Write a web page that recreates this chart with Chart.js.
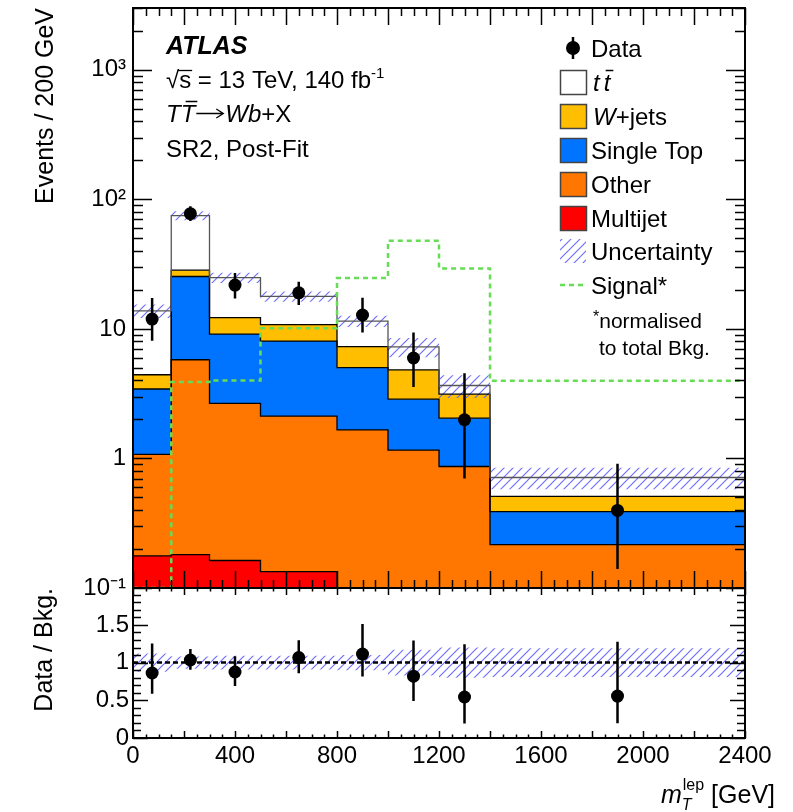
<!DOCTYPE html>
<html>
<head>
<meta charset="utf-8">
<script src="https://cdn.jsdelivr.net/npm/chart.js@4.4.0/dist/chart.umd.min.js"></script>
<style>
  html, body { margin: 0; padding: 0; background: #fff; }
  #wrap { position: relative; width: 793px; height: 812px; }
  #main { position: absolute; left: 0; top: 0; }
  #ratio { position: absolute; left: 0; top: 576px; }
</style>
</head>
<body>
<div id="wrap">
  <canvas id="main" width="793" height="600"></canvas>
  <canvas id="ratio" width="793" height="236"></canvas>
</div>
<script>
// m_T^lep distribution, SR2 post-fit: stacked backgrounds + data, ratio below

const binEdges  = [0, 150, 300, 500, 800, 1000, 1200, 1400, 2400];
const multijet  = [0.177, 0.181, 0.163, 0.134, 0, 0, 0, 0];
const other     = [0.90, 5.60, 2.50, 1.99, 1.66, 1.16, 0.867, 0.216];
const singleTop = [2.36, 19.6, 6.46, 5.93, 3.37, 1.71, 1.18, 0.172];
const wjets     = [0.99, 3.0, 3.08, 2.75, 2.26, 1.96, 1.09, 0.121];
const ttbar     = [9.37, 46.6, 12.7, 7.0, 4.21, 2.44, 0.52, 0.204];
const signal    = [0, 3.9, 4.0, 10.1, 24.7, 47.9, 29.3, 3.98];
const bkgUnc    = [0.12, 0.08, 0.09, 0.09, 0.10, 0.17, 0.20, 0.19]; // relative

const dataX  = [75, 225, 400, 650, 900, 1100, 1300, 1900];
const dataY  = [11.9, 77.6, 21.8, 19.0, 12.8, 5.96, 1.99, 0.397];
const dataLo = [8.1, 68.0, 17.2, 15.3, 9.4, 3.56, 0.70, 0.140];
const dataHi = [17.3, 88.5, 27.0, 23.1, 17.4, 9.4, 4.55, 0.91];

const yTickVals   = [0.1, 1, 10, 100, 1000];
const yTickLabels = ['10\u207B\u00B9', '1', '10', '10\u00B2', '10\u00B3'];
const rTickVals   = [0, 0.5, 1, 1.5];
const rTickLabels = ['0', '0.5', '1', '1.5'];
const xTickVals   = [0, 400, 800, 1200, 1600, 2000, 2400];

const Y_MIN = 0.1, Y_MAX = 3000;
const R_MIN = 0, R_MAX = 1.99;

const FONT = "'Liberation Sans', Arial, Helvetica, sans-serif";
const font = (size, style) => (style ? style + ' ' : '') + size + 'px ' + FONT;

const stackNames = ['Multijet', 'Other', 'Single Top', 'W+jets', 'ttbar'];
const stackFill  = ['#ff0000', '#ff7700', '#0074ff', '#ffbe00', '#ffffff'];
const SIGNAL_COLOR = '#66dd55';

// cumulative stack tops, bottom to top
let run = multijet.map(() => 0);
const stackTops = [multijet, other, singleTop, wjets, ttbar].map(arr => (run = run.map((r, i) => r + arr[i])));
const total = stackTops[stackTops.length - 1];

// points for a step histogram: left edges, plus the last right edge
function steps(vals) {
  const pts = vals.map((v, i) => ({ x: binEdges[i], y: v }));
  pts.push({ x: binEdges[binEdges.length - 1], y: vals[vals.length - 1] });
  return pts;
}
const clampLog = v => Math.max(v, Y_MIN);

function errorSegments(xs, lo, hi) {
  const pts = [];
  xs.forEach((x, i) => {
    pts.push({ x: x, y: lo[i] }, { x: x, y: hi[i] }, { x: x, y: null });
  });
  return pts;
}

function hatchPattern() {
  const s = 9;
  const c = document.createElement('canvas');
  c.width = s; c.height = s;
  const g = c.getContext('2d');
  g.strokeStyle = 'rgba(95,95,255,0.9)';
  g.lineWidth = 1.2;
  g.beginPath();
  g.moveTo(-1, s + 1); g.lineTo(s + 1, -1);
  g.moveTo(-1, 1); g.lineTo(1, -1);
  g.moveTo(s - 1, s + 1); g.lineTo(s + 1, s - 1);
  g.stroke();
  return g.createPattern(c, 'repeat');
}
const hatch = hatchPattern();

// keep the plot frame fixed: no extra room for half-labels at the ends
function noLabelPadding(s) {
  s.paddingTop = 0; s.paddingBottom = 0;
  s.paddingLeft = 0; s.paddingRight = 0;
}

// tick marks on all four sides, drawn inside the frame
function frameTicks(xTicks, yTicks) {
  return {
    id: 'frameTicks',
    afterDatasetsDraw(chart) {
      const { ctx, chartArea: a } = chart;
      const x = chart.scales.x, y = chart.scales.y;
      ctx.save();
      ctx.strokeStyle = '#000';
      ctx.lineWidth = 1.5;
      ctx.beginPath();
      xTicks.forEach(([v, len]) => {
        const px = Math.round(x.getPixelForValue(v)) + 0.5;
        ctx.moveTo(px, a.bottom); ctx.lineTo(px, a.bottom - len);
        ctx.moveTo(px, a.top); ctx.lineTo(px, a.top + len);
      });
      yTicks.forEach(([v, len]) => {
        const py = Math.round(y.getPixelForValue(v)) + 0.5;
        ctx.moveTo(a.left, py); ctx.lineTo(a.left + len, py);
        ctx.moveTo(a.right, py); ctx.lineTo(a.right - len, py);
      });
      ctx.stroke();
      ctx.lineWidth = 2;
      ctx.strokeRect(a.left, a.top, a.right - a.left, a.bottom - a.top);
      ctx.restore();
    }
  };
}

const mainXTicks = [];
for (let v = 0; v <= 2400; v += 50) mainXTicks.push([v, v % 200 === 0 ? 17 : 8]);
const mainYTicks = [];
for (let d = -1; d <= 3; d++) {
  for (let k = 1; k <= 9; k++) {
    const v = k * Math.pow(10, d);
    if (v <= Y_MAX) mainYTicks.push([v, k === 1 ? 19 : 10]);
  }
}
const ratioXTicks = [];
for (let v = 0; v <= 2400; v += 50) ratioXTicks.push([v, v % 200 === 0 ? 7 : 3.5]);
const ratioYTicks = [];
for (let i = 0; i <= 19; i++) ratioYTicks.push([i / 10, i % 5 === 0 ? 15 : 8]);

// draw a row of text pieces [text, font, dy], returns end x
function textRuns(ctx, x, y, parts) {
  parts.forEach(([t, f, dy]) => {
    ctx.font = f;
    ctx.fillText(t, x, y + (dy || 0));
    x += ctx.measureText(t).width;
  });
  return x;
}

const mainText = {
  id: 'mainText',
  afterDraw(chart) {
    const ctx = chart.ctx;
    ctx.save();
    ctx.fillStyle = '#000';
    ctx.strokeStyle = '#000';
    ctx.textBaseline = 'alphabetic';
    ctx.textAlign = 'left';

    // ATLAS block
    ctx.font = font(25, 'italic bold');
    ctx.fillText('ATLAS', 166, 54);
    ctx.font = font(24);
    const rootW = ctx.measureText('\u221A').width;
    ctx.fillText('\u221A', 166, 88);
    const sEnd = textRuns(ctx, 166 + rootW, 88, [['s', font(24)]]);
    ctx.lineWidth = 1.3;
    ctx.beginPath();
    ctx.moveTo(166 + rootW - 1, 70.5); ctx.lineTo(sEnd + 1, 70.5);
    ctx.stroke();
    const eEnd = textRuns(ctx, sEnd, 88, [[' = 13 TeV, 140 fb', font(24)]]);
    textRuns(ctx, eEnd, 88, [['-1', font(15), -10]]);

    let x = textRuns(ctx, 166, 122, [['T', font(24, 'italic')]]);
    ctx.font = font(24, 'italic');
    const tW = ctx.measureText('T').width;
    ctx.fillText('T', x, 122);
    ctx.lineWidth = 1.5;
    ctx.beginPath();
    ctx.moveTo(x + 5, 101.5); ctx.lineTo(x + tW + 2, 101.5);
    ctx.stroke();
    x += tW + 1;
    // long arrow
    ctx.lineWidth = 1.3;
    ctx.beginPath();
    ctx.moveTo(x, 113.5); ctx.lineTo(x + 26, 113.5);
    ctx.moveTo(x + 20, 109); ctx.lineTo(x + 27, 113.5); ctx.lineTo(x + 20, 118);
    ctx.stroke();
    x += 29;
    textRuns(ctx, x, 122, [['Wb', font(24, 'italic')], ['+X', font(24)]]);

    ctx.font = font(24);
    ctx.fillText('SR2, Post-Fit', 166, 157);

    // legend
    const rows = [48, 82, 116, 150, 184, 218, 251, 285];
    const bx = 560, bw = 26, bh = 24, tx = 591;
    // data
    ctx.lineWidth = 2.5;
    ctx.beginPath();
    ctx.moveTo(573, rows[0] - 11); ctx.lineTo(573, rows[0] + 11);
    ctx.stroke();
    ctx.beginPath();
    ctx.arc(573, rows[0], 7, 0, 2 * Math.PI);
    ctx.fill();
    ctx.font = font(24);
    ctx.fillText('Data', tx, rows[0] + 8.5);
    // stacked processes, top of stack first
    const boxes = [[4, 1], [3, 2], [2, 3], [1, 4], [0, 5]];
    ctx.lineWidth = 1.5;
    boxes.forEach(([k, r]) => {
      ctx.fillStyle = stackFill[k];
      ctx.fillRect(bx, rows[r] - bh / 2, bw, bh);
      ctx.strokeStyle = '#444';
      ctx.strokeRect(bx + 0.5, rows[r] - bh / 2 + 0.5, bw, bh);
    });
    ctx.fillStyle = '#000';
    ctx.strokeStyle = '#000';
    // t tbar
    ctx.font = font(24, 'italic');
    const tt = ctx.measureText('t').width;
    ctx.fillText('t', tx + 2, rows[1] + 8.5);
    ctx.fillText('t', tx + 2 + tt + 4, rows[1] + 8.5);
    ctx.lineWidth = 1.5;
    ctx.beginPath();
    ctx.moveTo(tx + tt + 8, rows[1] - 11.5); ctx.lineTo(tx + 2 * tt + 9, rows[1] - 11.5);
    ctx.stroke();
    textRuns(ctx, tx + 2, rows[2] + 8.5, [['W', font(24, 'italic')], ['+jets', font(24)]]);
    ctx.font = font(24);
    ctx.fillText('Single Top', tx, rows[3] + 8.5);
    ctx.fillText('Other', tx, rows[4] + 8.5);
    ctx.fillText('Multijet', tx, rows[5] + 8.5);
    // uncertainty
    ctx.fillStyle = hatch;
    ctx.fillRect(bx, rows[6] - bh / 2, bw, bh);
    ctx.fillStyle = '#000';
    ctx.fillText('Uncertainty', tx, rows[6] + 8.5);
    // signal
    ctx.strokeStyle = SIGNAL_COLOR;
    ctx.lineWidth = 2.5;
    ctx.setLineDash([5, 4]);
    ctx.beginPath();
    ctx.moveTo(bx, rows[7]); ctx.lineTo(bx + bw, rows[7]);
    ctx.stroke();
    ctx.setLineDash([]);
    ctx.fillText('Signal*', tx, rows[7] + 8.5);
    textRuns(ctx, 593, 328, [['*', font(16), -6], ['normalised', font(21)]]);
    ctx.font = font(21);
    ctx.fillText('to total Bkg.', 599, 355);

    // y title
    ctx.translate(53, 8);
    ctx.rotate(-Math.PI / 2);
    ctx.textAlign = 'right';
    ctx.font = font(25);
    ctx.fillText('Events / 200 GeV', 0, 0);
    ctx.restore();
  }
};

const ratioText = {
  id: 'ratioText',
  afterDraw(chart) {
    const ctx = chart.ctx;
    ctx.save();
    ctx.fillStyle = '#000';
    // x title, right aligned
    const parts = [['m', font(25, 'italic')], [' [GeV]', font(25)]];
    ctx.font = font(16, 'italic');
    const subW = ctx.measureText('T').width;
    ctx.font = font(16);
    const supW = ctx.measureText('lep').width;
    ctx.font = font(25, 'italic');
    const mW = ctx.measureText('m').width;
    ctx.font = font(25);
    const gW = ctx.measureText(' [GeV]').width;
    const right = 775, base = 227;
    let x = right - (mW + Math.max(subW, supW) + 1 + gW);
    textRuns(ctx, x, base, [parts[0]]);
    x += mW;
    ctx.font = font(16, 'italic');
    ctx.fillText('T', x, base + 7);
    ctx.font = font(16);
    ctx.fillText('lep', x + 1, base - 13);
    x += Math.max(subW, supW) + 1;
    textRuns(ctx, x, base, [parts[1]]);

    // y title
    ctx.translate(52, 12);
    ctx.rotate(-Math.PI / 2);
    ctx.textAlign = 'right';
    ctx.font = font(25);
    ctx.fillText('Data / Bkg.', 0, 0);
    ctx.restore();
  }
};

const tickFont = { family: FONT, size: 24 };

// main panel
const mainSets = stackTops.map((top, i) => ({
  label: stackNames[i],
  data: steps(top.map(clampLog)),
  stepped: true,
  borderColor: i === stackTops.length - 1 ? '#555' : '#000',
  borderWidth: 1.3,
  backgroundColor: stackFill[i],
  fill: i === 0 ? 'start' : '-1',
  pointRadius: 0,
  order: 20 - i
}));
mainSets.push({
  label: 'Signal*',
  data: steps(signal.map(clampLog)),
  stepped: true,
  borderColor: SIGNAL_COLOR,
  borderDash: [5, 4],
  borderWidth: 2.5,
  fill: false,
  pointRadius: 0,
  order: 10
});
mainSets.push({
  label: 'uncDown',
  data: steps(total.map((t, i) => t * (1 - bkgUnc[i]))),
  stepped: true,
  borderWidth: 0,
  borderColor: 'rgba(0,0,0,0)',
  fill: false,
  pointRadius: 0,
  order: 9
});
mainSets.push({
  label: 'Uncertainty',
  data: steps(total.map((t, i) => t * (1 + bkgUnc[i]))),
  stepped: true,
  borderWidth: 0,
  borderColor: 'rgba(0,0,0,0)',
  backgroundColor: hatch,
  fill: '-1',
  pointRadius: 0,
  order: 8
});
mainSets.push({
  label: 'dataErr',
  data: errorSegments(dataX, dataLo, dataHi),
  borderColor: '#000',
  borderWidth: 2.5,
  fill: false,
  spanGaps: false,
  pointRadius: 0,
  order: 2
});
mainSets.push({
  label: 'Data',
  data: dataX.map((x, i) => ({ x: x, y: dataY[i] })),
  showLine: false,
  pointRadius: 6.5,
  pointBackgroundColor: '#000',
  pointBorderWidth: 0,
  order: 1
});

new Chart(document.getElementById('main'), {
  type: 'line',
  data: { datasets: mainSets },
  options: {
    responsive: false,
    animation: false,
    events: [],
    layout: { padding: { top: 8, right: 48, bottom: 12, left: 0 } },
    plugins: {
      legend: { display: false },
      tooltip: { enabled: false },
      filler: { drawTime: 'beforeDatasetsDraw' }
    },
    scales: {
      x: { type: 'linear', min: 0, max: 2400, display: false },
      y: {
        type: 'logarithmic',
        min: Y_MIN,
        max: Y_MAX,
        afterBuildTicks: s => { s.ticks = yTickVals.map(v => ({ value: v })); },
        afterFit: s => { s.width = 133; noLabelPadding(s); },
        ticks: {
          font: tickFont,
          color: '#000',
          padding: 7,
          autoSkip: false,
          callback: v => yTickLabels[yTickVals.indexOf(v)]
        },
        grid: { display: false, drawTicks: false },
        border: { display: false }
      }
    }
  },
  plugins: [frameTicks(mainXTicks, mainYTicks), mainText]
});

// ratio panel
const ratio = dataY.map((d, i) => d / total[i]);
const ratioLo = dataLo.map((d, i) => d / total[i]);
const ratioHi = dataHi.map((d, i) => d / total[i]);

new Chart(document.getElementById('ratio'), {
  type: 'line',
  data: {
    datasets: [
      {
        label: 'bandDown',
        data: steps(bkgUnc.map(u => 1 - u)),
        stepped: true,
        borderWidth: 0,
        borderColor: 'rgba(0,0,0,0)',
        fill: false,
        pointRadius: 0,
        order: 6
      },
      {
        label: 'band',
        data: steps(bkgUnc.map(u => 1 + u)),
        stepped: true,
        borderWidth: 0,
        borderColor: 'rgba(0,0,0,0)',
        backgroundColor: hatch,
        fill: '-1',
        pointRadius: 0,
        order: 5
      },
      {
        label: 'unity',
        data: [{ x: 0, y: 1 }, { x: 2400, y: 1 }],
        borderColor: '#000',
        borderWidth: 2.5,
        borderDash: [5, 3],
        fill: false,
        pointRadius: 0,
        order: 3
      },
      {
        label: 'ratioErr',
        data: errorSegments(dataX, ratioLo, ratioHi),
        borderColor: '#000',
        borderWidth: 2.5,
        fill: false,
        spanGaps: false,
        pointRadius: 0,
        order: 2
      },
      {
        label: 'ratio',
        data: dataX.map((x, i) => ({ x: x, y: ratio[i] })),
        showLine: false,
        pointRadius: 6.5,
        pointBackgroundColor: '#000',
        pointBorderWidth: 0,
        order: 1
      }
    ]
  },
  options: {
    responsive: false,
    animation: false,
    events: [],
    layout: { padding: { top: 12, right: 48, bottom: 0, left: 0 } },
    plugins: {
      legend: { display: false },
      tooltip: { enabled: false },
      filler: { drawTime: 'beforeDatasetsDraw' }
    },
    scales: {
      x: {
        type: 'linear',
        min: 0,
        max: 2400,
        afterBuildTicks: s => { s.ticks = xTickVals.map(v => ({ value: v })); },
        afterFit: s => { s.height = 74; noLabelPadding(s); },
        ticks: { font: tickFont, color: '#000', padding: 4, maxRotation: 0, autoSkip: false, callback: v => String(v) },
        grid: { display: false, drawTicks: false },
        border: { display: false }
      },
      y: {
        type: 'linear',
        min: R_MIN,
        max: R_MAX,
        afterBuildTicks: s => { s.ticks = rTickVals.map(v => ({ value: v })); },
        afterFit: s => { s.width = 133; noLabelPadding(s); },
        ticks: {
          font: tickFont,
          color: '#000',
          padding: 4,
          autoSkip: false,
          callback: v => rTickLabels[rTickVals.indexOf(v)]
        },
        grid: { display: false, drawTicks: false },
        border: { display: false }
      }
    }
  },
  plugins: [frameTicks(ratioXTicks, ratioYTicks), ratioText]
});
</script>
</body>
</html>
